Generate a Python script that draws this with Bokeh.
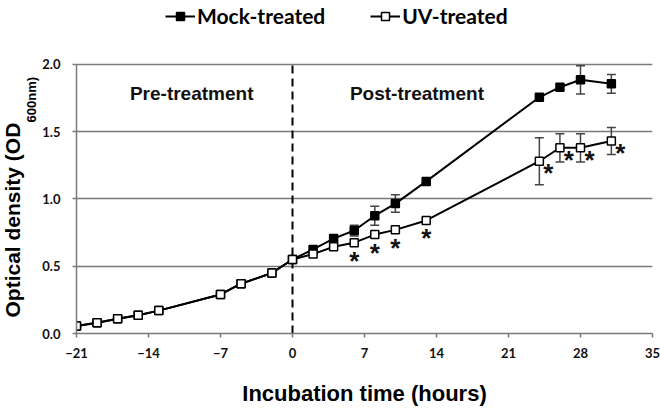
from bokeh.plotting import figure
from bokeh.models import (ColumnDataSource, Whisker, TeeHead, Label, Legend,
                          LegendItem, Range1d, FixedTicker, Title)
from bokeh.embed import file_html
from bokeh.resources import INLINE
from bokeh.core.properties import value

# ---------------- data ----------------
hours = [-21, -19, -17, -15, -13, -7, -5, -2, 0, 2, 4, 6, 8, 10, 13, 24, 26, 28, 31]
mock_od = [0.055, 0.08, 0.11, 0.135, 0.17, 0.29, 0.37, 0.45, 0.55,
           0.625, 0.705, 0.765, 0.875, 0.965, 1.13, 1.755, 1.83, 1.885, 1.855]
mock_err = [0, 0, 0, 0, 0, 0, 0, 0, 0,
            0, 0, 0.04, 0.07, 0.065, 0, 0, 0, 0.105, 0.07]
uv_od = [0.055, 0.08, 0.11, 0.135, 0.17, 0.29, 0.37, 0.45, 0.55,
         0.59, 0.645, 0.675, 0.735, 0.77, 0.84, 1.28, 1.38, 1.38, 1.43]
uv_err = [0, 0, 0, 0, 0, 0, 0, 0, 0,
          0, 0, 0, 0, 0, 0, 0.175, 0.105, 0.105, 0.10]
sig_hours = [6, 8, 10, 13, 24, 26, 28, 31]
treatment_hour = [0]
x_ticks = [-21, -14, -7, 0, 7, 14, 21, 28, 35]
y_ticks = [0.0, 0.5, 1.0, 1.5, 2.0]
y_tick_labels = ["0.0", "0.5", "1.0", "1.5", "2.0"]
series_names = ["Mock-treated", "UV-treated"]
phase_names = ["Pre-treatment", "Post-treatment"]
x_title = "Incubation time (hours)"
y_title_main, y_title_sub = "Optical density (OD", "600nm)"

TICK_FONT = "Lato"
GRID = "#7a7a7a"
Y_MIN, Y_MAX = y_ticks[0], y_ticks[-1]
# frame extends above the axis top so that the legend can sit inside it
FRAME_H, AXIS_H = 334, 270
Y_TOP = Y_MAX * FRAME_H / AXIS_H

p = figure(width=660, height=408, x_range=Range1d(x_ticks[0], x_ticks[-1]),
           y_range=Range1d(Y_MIN, Y_TOP),
           output_backend="svg", toolbar_location=None,
           min_border_left=76, min_border_right=8, min_border_top=0, min_border_bottom=74)
p.outline_line_color = None
p.background_fill_color = "white"

# axes
for ax in (p.xaxis[0], p.yaxis[0]):
    ax.axis_line_color = GRID
    ax.axis_line_width = 1.5
    ax.major_tick_line_color = GRID
    ax.major_tick_line_width = 1.5
    ax.major_tick_in = 0
    ax.major_tick_out = 4
    ax.minor_tick_line_color = None
    ax.major_label_text_font = TICK_FONT
    ax.major_label_text_font_style = "bold"
    ax.major_label_text_font_size = "13px"
    ax.major_label_text_color = "#111111"
p.xaxis.major_label_standoff = 10
p.yaxis.major_label_standoff = 12
p.yaxis.bounds = (Y_MIN, Y_MAX)

p.xaxis.ticker = FixedTicker(ticks=x_ticks)
p.yaxis.ticker = FixedTicker(ticks=y_ticks)
p.yaxis.major_label_overrides = {t: s for t, s in zip(y_ticks, y_tick_labels)}

p.xaxis.axis_label = x_title
p.xaxis.axis_label_text_font = "Liberation Sans"
p.xaxis.axis_label_text_font_style = "bold"
p.xaxis.axis_label_text_font_size = "22px"
p.xaxis.axis_label_text_color = "#000000"
p.xaxis.axis_label_standoff = 20

p.xgrid.grid_line_color = None
p.ygrid.ticker = FixedTicker(ticks=y_ticks[1:])
p.ygrid.grid_line_color = GRID
p.ygrid.grid_line_width = 1.5

# dashed treatment line
p.segment(x0=treatment_hour, y0=[Y_MIN], x1=treatment_hour, y1=[Y_MAX],
          line_color="black", line_width=2, line_dash="8 5")

# error bars
def err_source(xs, ys, es):
    sel = [i for i, e in enumerate(es) if e > 0]
    return ColumnDataSource(dict(x=[xs[i] for i in sel],
                                 lo=[ys[i] - es[i] for i in sel],
                                 hi=[ys[i] + es[i] for i in sel]))

for ys, es in ((mock_od, mock_err), (uv_od, uv_err)):
    src = err_source(hours, ys, es)
    w = Whisker(source=src, base="x", lower="lo", upper="hi",
                line_color="#444444", line_width=1.5,
                upper_head=TeeHead(size=9, line_color="#444444", line_width=1.5),
                lower_head=TeeHead(size=9, line_color="#444444", line_width=1.5))
    p.add_layout(w)

mock_src = ColumnDataSource(dict(x=hours, y=mock_od))
uv_src = ColumnDataSource(dict(x=hours, y=uv_od))

mock_line = p.line("x", "y", source=mock_src, line_color="black", line_width=2)
mock_pts = p.scatter("x", "y", source=mock_src, marker="square", size=8,
                     fill_color="black", line_color="black", line_width=1.5)
uv_line = p.line("x", "y", source=uv_src, line_color="black", line_width=2)
uv_pts = p.scatter("x", "y", source=uv_src, marker="square", size=8,
                   fill_color="white", line_color="black", line_width=1.5)

# significance asterisks
sig_y = [uv_od[hours.index(h)] for h in sig_hours]
sig_dx = [0 if h <= 13 else 9 for h in sig_hours]
sig_dy = [18 if h <= 13 else 12 for h in sig_hours]
sig_src = ColumnDataSource(dict(x=sig_hours, y=sig_y, t=["*"] * len(sig_hours),
                                dx=sig_dx, dy=sig_dy))
p.text("x", "y", text="t", source=sig_src, x_offset="dx", y_offset="dy",
       text_align="center", text_baseline="alphabetic",
       text_font=value("Liberation Sans"), text_font_size="26px",
       text_font_style="bold", text_color="#111111")

# phase labels
for name, xx in zip(phase_names, (-9.8, 12.1)):
    p.add_layout(Label(x=xx, y=1.785, text=name, text_align="center",
                       text_baseline="middle", text_font="Liberation Sans",
                       text_font_style="bold", text_font_size="19px",
                       text_color="#111111"))

# y-axis title (with subscript) as titles in the left panel
sub_title = Title(text=y_title_sub, align="left", offset=211, standoff=2,
                  text_font="Liberation Sans", text_font_style="bold",
                  text_font_size="13px", text_color="black")
main_title = Title(text=y_title_main, align="left", offset=16,
                   standoff=-7, text_font="Liberation Sans", text_font_style="bold",
                   text_font_size="21px", text_color="black")
p.add_layout(sub_title, "left")
p.add_layout(main_title, "left")

# legend at the top (inside the extended frame)
legend = Legend(items=[LegendItem(label=series_names[0], renderers=[mock_line, mock_pts]),
                       LegendItem(label=series_names[1], renderers=[uv_line, uv_pts])],
                orientation="horizontal", location=(89, 305),
                glyph_width=30, glyph_height=20, label_standoff=2, spacing=45,
                padding=0, margin=0,
                border_line_color=None, background_fill_alpha=0,
                label_text_font="Lato", label_text_font_style="bold",
                label_text_font_size="21px", label_text_color="black")
p.add_layout(legend)

open("out.html", "w").write(file_html(p, INLINE))
